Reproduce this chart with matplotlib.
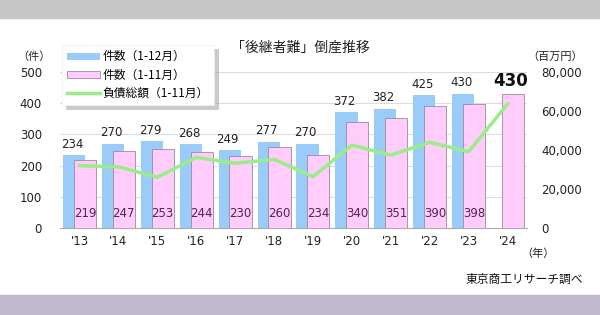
import matplotlib.pyplot as plt
import matplotlib.patches as mpatches
from matplotlib.ticker import FuncFormatter
import numpy as np

plt.rcParams['font.family'] = ['DejaVu Sans', 'Noto Sans CJK JP']
JP = ['Noto Sans CJK JP', 'DejaVu Sans']

years = ["'13", "'14", "'15", "'16", "'17", "'18", "'19", "'20", "'21", "'22", "'23", "'24"]
full_year = [234, 270, 279, 268, 249, 277, 270, 372, 382, 425, 430, None]
jan_nov = [219, 247, 253, 244, 230, 260, 234, 340, 351, 390, 398, 430]
debt = [32000, 31400, 26000, 36200, 33200, 35200, 26300, 42500, 37400, 43900, 39100, 63600]

blue = '#99ccf8'
pink = '#ffccfc'
green = '#99ee88'

fig = plt.figure(figsize=(6, 3.15), dpi=100)
fig.patches.append(mpatches.Rectangle((0, 1 - 18 / 315), 1, 18 / 315, transform=fig.transFigure,
                                      color='#c6c6c6', zorder=0))
fig.patches.append(mpatches.Rectangle((0, 0), 1, 20 / 315, transform=fig.transFigure,
                                      color='#c0b8cb', zorder=0))

ax = fig.add_axes([60 / 600, 1 - 228 / 315, 467 / 600, 156 / 315])
x = np.arange(len(years))
w = 0.57
off = 0.14

fx = [i for i, v in enumerate(full_year) if v is not None]
fv = [v for v in full_year if v is not None]
ax.bar(np.array(fx) - off, fv, w, color=blue, zorder=2, label='件数（1-12月）')
ax.bar(x + off, jan_nov, w, color=pink, edgecolor='#9a8aa0', linewidth=0.6, zorder=3,
       label='件数（1-11月）')

for i, v in zip(fx, fv):
    ax.text(i - off - 0.05, v + 14, str(v), ha='center', va='bottom', fontsize=8.5, color='#222222')
for i, v in enumerate(jan_nov[:-1]):
    ax.text(i + off, 45, str(v), ha='center', va='center', fontsize=8.5, color='#552255', zorder=5)
ax.text(11 + off - 0.05, jan_nov[-1] + 12, str(jan_nov[-1]), ha='center', va='bottom',
        fontsize=12, fontweight='bold', color='#111111')

ax.set_xlim(-0.5, 11.5)
ax.set_ylim(0, 500)
ax.set_yticks(range(0, 501, 100))
ax.set_xticks(x)
ax.set_xticklabels(years)
ax.grid(axis='y', color='#dddddd', linewidth=0.8, zorder=0)
ax.set_axisbelow(True)
for s in ['top', 'left', 'right']:
    ax.spines[s].set_visible(False)
ax.spines['bottom'].set_color('#aaaaaa')
ax.tick_params(axis='both', length=0, labelsize=8.5, colors='#222222')
ax.tick_params(axis='y', pad=13)
ax.tick_params(axis='x', pad=5)

ax2 = ax.twinx()
ax2.plot(x, debt, color=green, linewidth=2.5, zorder=4, label='負債総額（1-11月）')
ax2.set_ylim(0, 80000)
ax2.set_yticks(range(0, 80001, 20000))
ax2.yaxis.set_major_formatter(FuncFormatter(lambda v, p: f'{int(v):,}'))
for s in ['top', 'left', 'right', 'bottom']:
    ax2.spines[s].set_visible(False)
ax2.tick_params(axis='y', length=0, labelsize=8.5, colors='#222222', pad=10)
ax.set_zorder(1)
ax2.set_zorder(2)
ax.patch.set_visible(False)

h1, l1 = ax.get_legend_handles_labels()
h2, l2 = ax2.get_legend_handles_labels()
leg = ax2.legend(h1 + h2, l1 + l2, loc='upper left', bbox_to_anchor=(62 / 600, 1 - 45 / 315),
                 bbox_transform=fig.transFigure, prop={'family': JP, 'size': 8.5},
                 frameon=True, fancybox=False,
                 shadow={'color': '#999999', 'alpha': 0.5, 'ox': 3, 'oy': -3},
                 borderpad=0.45, handlelength=2.8, handleheight=0.55, handletextpad=0.2,
                 labelspacing=0.45, borderaxespad=0)
leg.get_frame().set_edgecolor('#eeeeee')
leg.get_frame().set_linewidth(0.5)

fig.text(0.5, 1 - 48 / 315, '「後継者難」倒産推移', ha='center', va='center', fontsize=10,
         family=JP, color='#222222')
fig.text(34 / 600, 1 - 57 / 315, '（件）', ha='center', va='center', fontsize=8, family=JP, color='#222222')
fig.text(555 / 600, 1 - 57 / 315, '（百万円）', ha='center', va='center', fontsize=8, family=JP, color='#222222')
fig.text(538 / 600, 1 - 254 / 315, '（年）', ha='center', va='center', fontsize=8, family=JP, color='#222222')
fig.text(583 / 600, 1 - 279 / 315, '東京商工リサーチ調べ', ha='right', va='center', fontsize=8.5,
         family=JP, color='#111111')

fig.savefig('out.png', dpi=100)
